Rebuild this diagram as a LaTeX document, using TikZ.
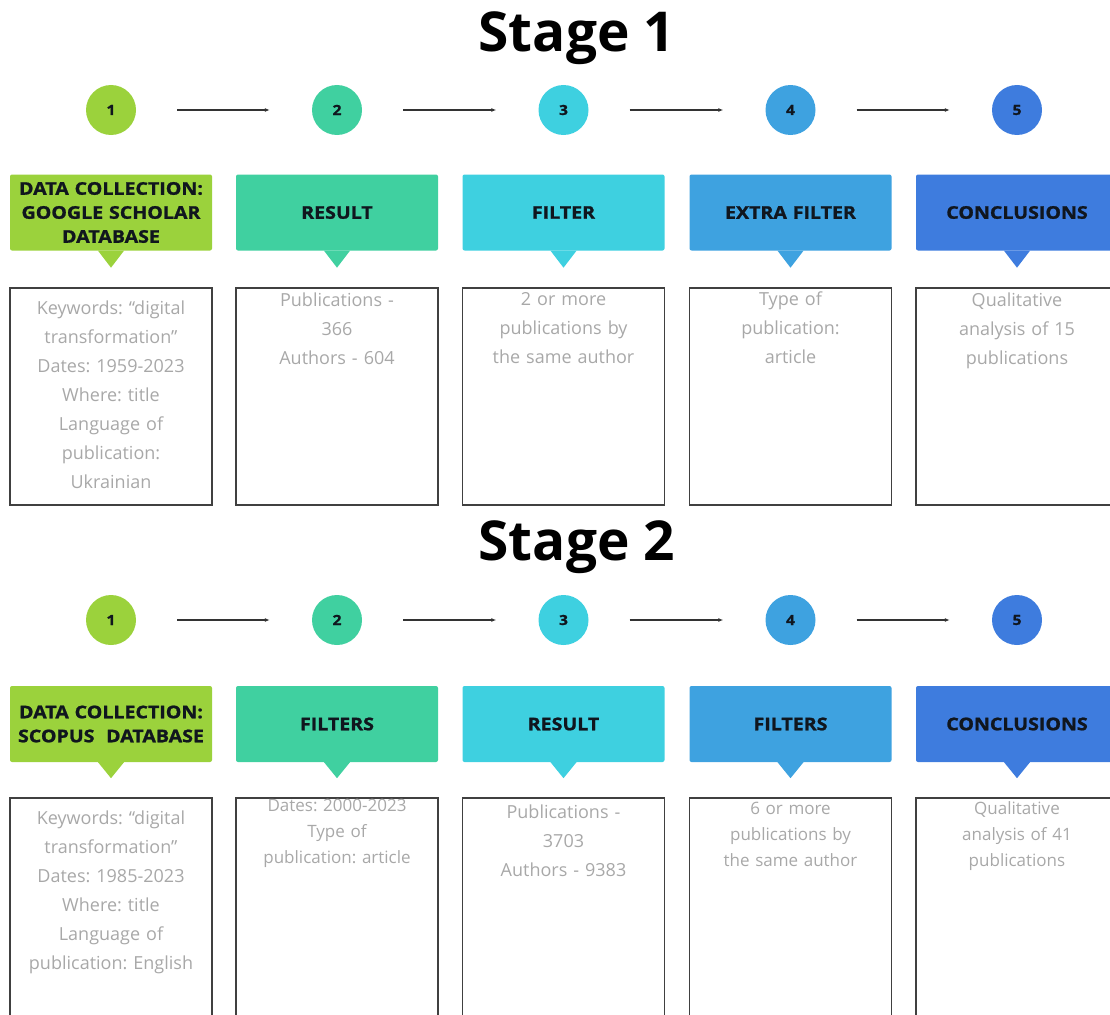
\documentclass[tikz,border=0pt]{standalone}
\usepackage{fontspec}
\setmainfont{Open Sans}
\newfontfamily\heavyfont{Open Sans}[FakeStretch=1.12, BoldFeatures={FakeBold=1.2}]
\usetikzlibrary{shapes, positioning, arrows.meta}
\frenchspacing

\definecolor{stepA}{RGB}{155,210,60}
\definecolor{stepB}{RGB}{64,208,160}
\definecolor{stepC}{RGB}{62,208,224}
\definecolor{stepD}{RGB}{62,162,224}
\definecolor{stepE}{RGB}{62,124,222}
\definecolor{inktext}{RGB}{16,22,30}
\definecolor{greytext}{RGB}{168,168,168}

\tikzset{
  num/.style={circle, minimum size=50pt, inner sep=0pt, font=\heavyfont\bfseries\fontsize{14}{14}\selectfont, text=inktext},
  head/.style={rectangle, rounded corners=2pt, minimum width=202pt, minimum height=76pt, inner sep=0pt, align=center, text width=200pt, font=\heavyfont\bfseries\fontsize{17.5}{24}\selectfont, text=inktext},
  body/.style={rectangle, draw=black!75, line width=1.2pt, minimum width=202pt, inner sep=0pt},
  bodytext/.style={anchor=north, align=center, text width=196pt, inner sep=0pt, font=\fontsize{18}{29}\selectfont, text=greytext},
  stagetitle/.style={font=\bfseries\fontsize{55}{55}\selectfont, text=black},
  flow/.style={line width=1.2pt, black!80, -{Latex[length=5pt,width=4pt]}, shorten <=41pt, shorten >=42pt}
}

\begin{document}
\begin{tikzpicture}[x=1pt, y=-1pt]
        \useasboundingbox (0,0) rectangle (1110,1014);
        \clip (0,0) rectangle (1110,1014);

        % stage 1
        \node[stagetitle] (title1) at (577, 38) {Stage 1};

        \node[num, fill=stepA] (c11) at (111, 110) {1};
        \node[num, fill=stepB] (c12) at (337, 110) {2};
        \node[num, fill=stepC] (c13) at (563.5, 110) {3};
        \node[num, fill=stepD] (c14) at (790.5, 110) {4};
        \node[num, fill=stepE] (c15) at (1017, 110) {5};

        \draw[flow] (c11) to (c12);
        \draw[flow] (c12) to (c13);
        \draw[flow] (c13) to (c14);
        \draw[flow] (c14) to (c15);

        \node[head, fill=stepA] (h11) at (111, 212.5) {DATA COLLECTION:\\GOOGLE SCHOLAR\\DATABASE};
        \node[head, fill=stepB] (h12) at (337, 212.5) {RESULT};
        \node[head, fill=stepC] (h13) at (563.5, 212.5) {FILTER};
        \node[head, fill=stepD] (h14) at (790.5, 212.5) {EXTRA FILTER};
        \node[head, fill=stepE] (h15) at (1017, 212.5) {CONCLUSIONS};

        \fill[stepA] ([xshift=-13pt]h11.south) -- ([xshift=13pt]h11.south) -- ([yshift=-17pt]h11.south) -- cycle;
        \fill[stepB] ([xshift=-13pt]h12.south) -- ([xshift=13pt]h12.south) -- ([yshift=-17pt]h12.south) -- cycle;
        \fill[stepC] ([xshift=-13pt]h13.south) -- ([xshift=13pt]h13.south) -- ([yshift=-17pt]h13.south) -- cycle;
        \fill[stepD] ([xshift=-13pt]h14.south) -- ([xshift=13pt]h14.south) -- ([yshift=-17pt]h14.south) -- cycle;
        \fill[stepE] ([xshift=-13pt]h15.south) -- ([xshift=13pt]h15.south) -- ([yshift=-17pt]h15.south) -- cycle;

        \node[body, minimum height=217pt] (b11) at (111, 396.5) {};
        \node[body, minimum height=217pt] (b12) at (337, 396.5) {};
        \node[body, minimum height=217pt] (b13) at (563.5, 396.5) {};
        \node[body, minimum height=217pt] (b14) at (790.5, 396.5) {};
        \node[body, minimum height=217pt] (b15) at (1017, 396.5) {};

        \node[bodytext] (t11) at ([yshift=-13pt]b11.north) {Keywords: “digital\\transformation”\\Dates: 1959-2023\\Where: title\\Language of\\publication:\\Ukrainian};
        \node[bodytext] (t12) at ([yshift=-5pt]b12.north) {Publications -\\366\\Authors - 604};
        \node[bodytext] (t13) at ([yshift=-5pt]b13.north) {2 or more\\publications by\\the same author};
        \node[bodytext] (t14) at ([yshift=-4pt]b14.north) {Type of\\publication:\\article};
        \node[bodytext] (t15) at ([yshift=-5pt]b15.north) {Qualitative\\analysis of 15\\publications};

        % stage 2
        \node[stagetitle] (title2) at (577, 547) {Stage 2};

        \node[num, fill=stepA] (c21) at (111, 620) {1};
        \node[num, fill=stepB] (c22) at (337, 620) {2};
        \node[num, fill=stepC] (c23) at (563.5, 620) {3};
        \node[num, fill=stepD] (c24) at (790.5, 620) {4};
        \node[num, fill=stepE] (c25) at (1017, 620) {5};

        \draw[flow] (c21) to (c22);
        \draw[flow] (c22) to (c23);
        \draw[flow] (c23) to (c24);
        \draw[flow] (c24) to (c25);

        \node[head, fill=stepA] (h21) at (111, 724) {DATA COLLECTION:\\SCOPUS\ \ DATABASE};
        \node[head, fill=stepB] (h22) at (337, 724) {FILTERS};
        \node[head, fill=stepC] (h23) at (563.5, 724) {RESULT};
        \node[head, fill=stepD] (h24) at (790.5, 724) {FILTERS};
        \node[head, fill=stepE] (h25) at (1017, 724) {CONCLUSIONS};

        \fill[stepA] ([xshift=-13pt]h21.south) -- ([xshift=13pt]h21.south) -- ([yshift=-16pt]h21.south) -- cycle;
        \fill[stepB] ([xshift=-13pt]h22.south) -- ([xshift=13pt]h22.south) -- ([yshift=-16pt]h22.south) -- cycle;
        \fill[stepC] ([xshift=-13pt]h23.south) -- ([xshift=13pt]h23.south) -- ([yshift=-16pt]h23.south) -- cycle;
        \fill[stepD] ([xshift=-13pt]h24.south) -- ([xshift=13pt]h24.south) -- ([yshift=-16pt]h24.south) -- cycle;
        \fill[stepE] ([xshift=-13pt]h25.south) -- ([xshift=13pt]h25.south) -- ([yshift=-16pt]h25.south) -- cycle;

        \node[body, minimum height=240pt] (b21) at (111, 918) {};
        \node[body, minimum height=240pt] (b22) at (337, 918) {};
        \node[body, minimum height=240pt] (b23) at (563.5, 918) {};
        \node[body, minimum height=240pt] (b24) at (790.5, 918) {};
        \node[body, minimum height=240pt] (b25) at (1017, 918) {};

        \node[bodytext] (t21) at ([yshift=-13pt]b21.north) {Keywords: “digital\\transformation”\\Dates: 1985-2023\\Where: title\\Language of\\publication: English};
        \node[bodytext, font=\fontsize{17}{26}\selectfont] (t22) at ([yshift=-2pt]b22.north) {Dates: 2000-2023\\Type of\\publication: article};
        \node[bodytext] (t23) at ([yshift=-7pt]b23.north) {Publications -\\3703\\Authors - 9383};
        \node[bodytext, font=\fontsize{17}{26}\selectfont] (t24) at ([yshift=-5pt]b24.north) {6 or more\\publications by\\the same author};
        \node[bodytext, font=\fontsize{17}{26}\selectfont] (t25) at ([yshift=-4pt]b25.north) {Qualitative\\analysis of 41\\publications};
    \end{tikzpicture}
\end{document}
